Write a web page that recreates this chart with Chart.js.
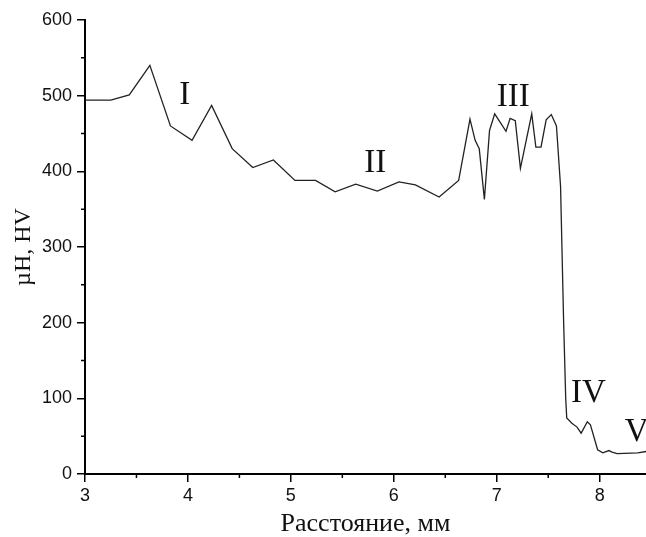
<!DOCTYPE html>
<html>
<head>
<meta charset="utf-8">
<script src="https://cdn.jsdelivr.net/npm/chart.js@4"></script>
<style>
  html, body { margin: 0; padding: 0; background: #fff; }
  #wrap { width: 646px; height: 537px; }
</style>
</head>
<body>
<div id="wrap"><canvas id="hardChart"></canvas></div>
<script>
// Distance along the sample, mm
const distance = [3.0, 3.25, 3.43, 3.63, 3.83, 4.04, 4.23, 4.43, 4.63, 4.83,
  5.04, 5.24, 5.43, 5.63, 5.84, 6.05, 6.21, 6.44, 6.63, 6.74,
  6.79, 6.83, 6.88, 6.93, 6.98, 7.09, 7.13, 7.18, 7.23, 7.34,
  7.38, 7.43, 7.48, 7.53, 7.58, 7.62, 7.65, 7.67, 7.68, 7.73,
  7.78, 7.82, 7.88, 7.91, 7.98, 8.03, 8.09, 8.12, 8.17, 8.37, 8.46];
// Microhardness, HV
const hardness = [494, 494, 501, 540, 460, 441, 487, 430, 405, 415,
  388, 388, 373, 383, 374, 386, 382, 366, 388, 469,
  441, 430, 363, 454, 476, 453, 470, 467, 404, 476,
  432, 432, 468, 475, 460, 380, 200, 100, 74, 67,
  62, 54, 69, 65, 32, 28, 31, 29, 27, 28, 30];

// Zone labels and where they sit (data units)
const zoneNames = ["I", "II", "III", "IV", "V"];
const zoneX = [3.97, 5.82, 7.16, 7.89, 8.36];
const zoneY = [500, 411, 498, 107, 55];

const xMinor = [3.5, 4.5, 5.5, 6.5, 7.5];
const yMinor = [50, 150, 250, 350, 450, 550];

const points = distance.map((d, i) => ({ x: d, y: hardness[i] }));

// minor ticks + zone numerals
const extras = {
  id: "extras",
  afterDraw(c) {
    const ctx = c.ctx;
    const xs = c.scales.x, ys = c.scales.y;
    ctx.save();
    ctx.strokeStyle = "#000";
    ctx.lineWidth = 1.5;
    ctx.beginPath();
    xMinor.forEach(v => {
      const px = xs.getPixelForValue(v);
      ctx.moveTo(px, ys.bottom);
      ctx.lineTo(px, ys.bottom + 4);
    });
    yMinor.forEach(v => {
      const py = ys.getPixelForValue(v);
      ctx.moveTo(xs.left, py);
      ctx.lineTo(xs.left - 4, py);
    });
    ctx.stroke();

    ctx.fillStyle = "#111";
    ctx.font = "33px 'Liberation Serif', 'Times New Roman', serif";
    ctx.textAlign = "center";
    ctx.textBaseline = "middle";
    zoneNames.forEach((n, i) => {
      ctx.fillText(n, xs.getPixelForValue(zoneX[i]), ys.getPixelForValue(zoneY[i]));
    });
    ctx.restore();
  }
};

new Chart(document.getElementById("hardChart"), {
  type: "line",
  data: {
    datasets: [{
      data: points,
      borderColor: "#222",
      borderWidth: 1.3,
      pointRadius: 0,
      tension: 0,
      fill: false
    }]
  },
  options: {
    responsive: true,
    maintainAspectRatio: false,
    animation: false,
    layout: { padding: { top: 20, right: 0, bottom: 0, left: 0 } },
    plugins: { legend: { display: false }, tooltip: { enabled: false } },
    scales: {
      x: {
        type: "linear",
        min: 3,
        max: 8.45,
        afterFit(s) { s.height = 63; },
        border: { color: "#000", width: 2 },
        grid: { drawOnChartArea: false, drawTicks: true, tickLength: 8, color: "#000", lineWidth: 1.5 },
        ticks: {
          stepSize: 1,
          includeBounds: false,
          padding: 3,
          color: "#111",
          font: { family: "'Liberation Sans', Arial, sans-serif", size: 18 }
        },
        title: {
          display: true,
          text: "Расстояние, мм",
          color: "#111",
          padding: { top: 0, bottom: 0 },
          font: { family: "'Liberation Serif', 'Times New Roman', serif", size: 26, lineHeight: 1.0 }
        }
      },
      y: {
        min: 0,
        max: 600,
        afterFit(s) { s.width = 85; },
        border: { color: "#000", width: 2 },
        grid: { drawOnChartArea: false, drawTicks: true, tickLength: 8, color: "#000", lineWidth: 1.5 },
        ticks: {
          stepSize: 100,
          padding: 5,
          color: "#111",
          font: { family: "'Liberation Sans', Arial, sans-serif", size: 18 }
        },
        title: {
          display: true,
          text: "µH, HV",
          color: "#111",
          padding: { top: 9, bottom: 0 },
          font: { family: "'Liberation Serif', 'Times New Roman', serif", size: 24 }
        }
      }
    }
  },
  plugins: [extras]
});
</script>
</body>
</html>
